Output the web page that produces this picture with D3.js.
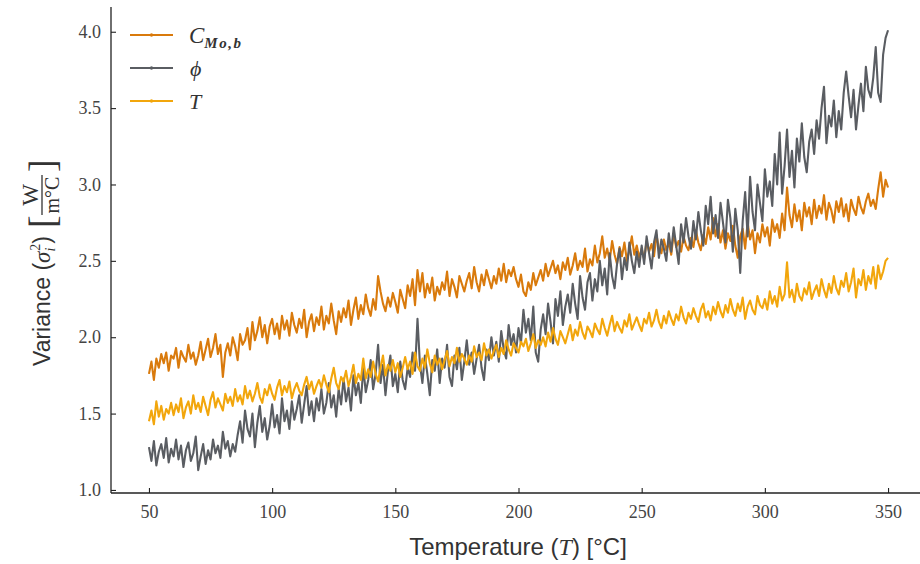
<!DOCTYPE html>
<html><head><meta charset="utf-8">
<script src="https://cdn.jsdelivr.net/npm/d3@7/dist/d3.min.js"></script>
<style>body{margin:0;background:#fff}svg{display:block}</style>
</head><body>
<svg id="c" width="920" height="564"></svg>
<script>
// Temperature grid (°C)
const temperatures = d3.range(50, 351, 1);

const cMoB = [
1.76,1.84,1.72,1.86,1.80,1.89,1.83,1.90,1.78,1.88,
1.86,1.93,1.80,1.91,1.87,1.84,1.95,1.86,1.90,1.82,
1.88,1.97,1.85,1.92,1.99,1.87,1.93,2.02,1.89,1.95,
1.74,1.90,1.96,1.88,2.00,1.94,1.85,2.02,1.95,1.98,
2.06,1.92,2.10,1.98,2.04,2.13,2.00,2.08,1.96,2.07,
2.12,2.02,2.09,1.99,2.14,2.05,2.11,2.01,2.16,2.08,
2.03,2.12,2.06,2.18,2.00,2.10,2.15,2.04,2.13,2.08,
2.20,2.05,2.14,2.09,2.22,2.11,2.02,2.17,2.10,2.19,
2.13,2.24,2.08,2.18,2.26,2.12,2.21,2.15,2.28,2.19,
2.14,2.25,2.18,2.40,2.30,2.22,2.17,2.26,2.20,2.29,
2.23,2.16,2.31,2.25,2.19,2.34,2.27,2.38,2.21,2.44,
2.30,2.42,2.26,2.35,2.29,2.39,2.24,2.33,2.28,2.36,
2.31,2.43,2.27,2.38,2.33,2.26,2.40,2.35,2.30,2.37,
2.42,2.32,2.46,2.36,2.30,2.41,2.34,2.44,2.38,2.32,
2.40,2.35,2.45,2.37,2.48,2.36,2.44,2.40,2.46,2.38,
2.33,2.41,2.30,2.27,2.36,2.31,2.42,2.34,2.39,2.44,
2.37,2.48,2.40,2.45,2.50,2.42,2.47,2.38,2.49,2.44,
2.52,2.41,2.47,2.55,2.44,2.50,2.46,2.58,2.43,2.51,
2.47,2.60,2.49,2.55,2.66,2.52,2.58,2.50,2.63,2.54,
2.48,2.59,2.53,2.62,2.50,2.57,2.66,2.54,2.60,2.52,
2.58,2.51,2.63,2.56,2.61,2.53,2.67,2.58,2.55,2.64,
2.57,2.62,2.54,2.68,2.59,2.63,2.56,2.66,2.60,2.57,
2.65,2.59,2.70,2.62,2.57,2.67,2.61,2.72,2.64,2.78,
2.66,2.74,2.62,2.70,2.58,2.68,2.63,2.73,2.60,2.52,
2.66,2.71,2.58,2.75,2.64,2.70,2.55,2.68,2.62,2.74,
2.66,2.72,2.60,2.77,2.69,2.74,2.65,2.81,2.70,2.98,
2.80,2.72,2.87,2.76,2.83,2.70,2.88,2.79,2.85,2.74,
2.90,2.78,2.86,2.81,2.93,2.77,2.88,2.83,2.75,2.89,
2.82,2.91,2.79,2.87,2.76,2.90,2.84,2.80,2.92,2.85,
2.81,2.89,2.94,2.86,2.90,2.84,2.97,3.08,2.92,3.03,
2.98];

const phi = [
1.28,1.19,1.32,1.16,1.25,1.30,1.21,1.34,1.18,1.27,
1.22,1.33,1.20,1.29,1.15,1.26,1.31,1.19,1.24,1.35,
1.13,1.22,1.30,1.17,1.26,1.20,1.33,1.24,1.29,1.21,
1.38,1.27,1.32,1.22,1.30,1.25,1.36,1.45,1.31,1.52,
1.40,1.35,1.50,1.28,1.44,1.55,1.38,1.47,1.33,1.42,
1.56,1.41,1.49,1.37,1.60,1.45,1.52,1.40,1.58,1.46,
1.53,1.62,1.44,1.56,1.68,1.49,1.58,1.45,1.60,1.52,
1.66,1.50,1.57,1.70,1.54,1.62,1.48,1.66,1.56,1.73,
1.58,1.67,1.52,1.75,1.62,1.70,1.57,1.80,1.64,1.72,
1.85,1.66,1.76,1.95,1.70,1.82,1.62,1.78,1.88,1.68,
1.76,1.64,1.84,1.72,1.66,1.80,1.74,1.90,1.78,2.12,
1.82,1.70,1.88,1.76,1.62,1.85,1.78,1.92,1.70,1.86,
1.80,1.95,1.74,1.68,1.88,1.79,1.93,1.72,1.84,1.98,
1.82,1.90,1.76,1.86,1.95,1.80,1.72,1.92,1.85,2.00,
1.88,1.97,1.84,2.04,1.92,1.86,2.08,1.95,2.02,1.90,
2.06,1.96,2.18,2.03,2.12,1.98,2.20,1.90,1.84,2.05,
2.15,2.02,2.22,2.10,1.96,2.25,2.14,2.30,2.08,2.20,
2.28,2.16,2.35,2.22,2.12,2.40,2.26,2.18,2.36,2.42,
2.24,2.38,2.30,2.50,2.34,2.45,2.28,2.55,2.40,2.32,
2.48,2.58,2.38,2.52,2.44,2.62,2.50,2.42,2.56,2.46,
2.60,2.48,2.66,2.55,2.45,2.62,2.70,2.52,2.64,2.58,
2.50,2.68,2.56,2.72,2.60,2.48,2.74,2.62,2.78,2.66,
2.58,2.76,2.64,2.82,2.70,2.60,2.86,2.74,2.92,2.68,
2.80,2.65,2.88,2.75,2.62,2.90,2.78,2.56,2.84,2.70,
2.42,2.76,2.95,2.66,3.05,2.82,2.70,3.00,2.88,2.76,
3.10,2.92,3.02,2.86,3.20,3.00,3.34,2.94,3.12,3.36,
3.05,3.22,2.98,3.30,3.15,3.40,3.18,3.08,3.28,3.36,
3.20,3.42,3.30,3.50,3.64,3.27,3.45,3.38,3.55,3.31,
3.48,3.36,3.60,3.74,3.58,3.44,3.62,3.36,3.52,3.66,
3.48,3.77,3.62,3.57,3.70,3.90,3.60,3.54,3.85,3.96,
4.01];

const tVar = [
1.45,1.52,1.43,1.58,1.48,1.55,1.46,1.53,1.50,1.57,
1.49,1.56,1.51,1.60,1.47,1.54,1.58,1.50,1.62,1.53,
1.57,1.51,1.61,1.55,1.49,1.59,1.64,1.54,1.60,1.56,
1.52,1.63,1.57,1.61,1.55,1.66,1.58,1.62,1.56,1.68,
1.60,1.65,1.58,1.63,1.70,1.61,1.57,1.66,1.62,1.69,
1.63,1.59,1.67,1.72,1.62,1.68,1.64,1.71,1.60,1.66,
1.70,1.65,1.62,1.69,1.74,1.66,1.71,1.63,1.68,1.72,
1.67,1.75,1.69,1.64,1.73,1.80,1.70,1.66,1.74,1.71,
1.78,1.68,1.74,1.82,1.70,1.76,1.72,1.86,1.73,1.79,
1.74,1.84,1.76,1.71,1.80,1.88,1.75,1.82,1.78,1.85,
1.77,1.83,1.74,1.80,1.87,1.79,1.84,1.76,1.90,1.81,
1.78,1.86,1.80,1.92,1.83,1.77,1.88,1.82,1.86,1.79,
1.85,1.91,1.81,1.87,1.83,1.93,1.84,1.89,1.86,1.82,
1.88,1.84,1.94,1.87,1.90,1.85,1.96,1.88,1.92,1.86,
1.91,1.95,1.87,1.93,1.89,1.98,1.92,1.88,1.96,1.93,
1.90,1.97,1.94,1.99,1.91,1.96,2.02,1.93,1.98,1.95,
2.00,1.94,2.03,1.97,2.06,1.99,1.95,2.04,2.00,1.96,
2.02,2.08,1.98,2.05,2.01,2.10,2.03,1.99,2.07,2.04,
2.00,2.09,2.05,2.02,2.12,2.06,2.01,2.08,2.14,2.04,
2.10,2.06,2.03,2.11,2.07,2.15,2.05,2.09,2.13,2.08,
2.04,2.12,2.09,2.16,2.07,2.11,2.18,2.10,2.06,2.14,
2.09,2.17,2.12,2.08,2.15,2.11,2.20,2.13,2.09,2.16,
2.12,2.19,2.14,2.10,2.18,2.22,2.13,2.17,2.11,2.20,
2.15,2.23,2.17,2.13,2.21,2.16,2.25,2.18,2.14,2.22,
2.17,2.26,2.12,2.20,2.24,2.18,2.15,2.27,2.21,2.19,
2.25,2.18,2.30,2.22,2.27,2.20,2.33,2.24,2.28,2.49,
2.26,2.31,2.23,2.35,2.27,2.24,2.32,2.28,2.36,2.25,
2.30,2.34,2.27,2.38,2.31,2.26,2.35,2.29,2.40,2.32,
2.28,2.37,2.33,2.42,2.30,2.36,2.45,2.26,2.38,2.34,
2.44,2.31,2.40,2.35,2.46,2.32,2.47,2.38,2.43,2.50,
2.52];

const xTicks = [50, 100, 150, 200, 250, 300, 350];
const yTicks = [1.0, 1.5, 2.0, 2.5, 3.0, 3.5, 4.0];
const seriesColors = ["#d97a0c", "#5a5d62", "#f2a60c"];

const svg = d3.select("#c");
const x = d3.scaleLinear().domain([35, 365]).range([112, 925]);
const y = d3.scaleLinear().domain([0.98, 4.162]).range([493, 7]);

// lines
const series = [cMoB, phi, tVar];
const line = d3.line().x((d, i) => x(temperatures[i])).y(d => y(d));
svg.append("g").selectAll("path").data(series).join("path")
  .attr("d", d => line(d))
  .attr("fill", "none")
  .attr("stroke", (d, i) => seriesColors[i])
  .attr("stroke-width", 2.1)
  .attr("stroke-linejoin", "round");

// axes
const tickFont = "'Liberation Serif', 'DejaVu Serif', serif";
const xAxis = svg.append("g").attr("transform", "translate(0,493)")
  .call(d3.axisBottom(x).tickValues(xTicks).tickSize(-5).tickPadding(12).tickFormat(d3.format("d")));
const yAxis = svg.append("g").attr("transform", "translate(111,0)")
  .call(d3.axisLeft(y).tickValues(yTicks).tickSize(-5).tickPadding(10).tickFormat(d3.format(".1f")));
[xAxis, yAxis].forEach(a => {
  a.select(".domain").attr("stroke", "#222").attr("stroke-width", 1.3);
  a.selectAll(".tick line").attr("stroke", "#222").attr("stroke-width", 1.1);
  a.selectAll(".tick text").attr("font-family", tickFont).attr("font-size", 18).attr("fill", "#444");
});
yAxis.select(".domain").attr("d", "M0,7V493");
xAxis.select(".domain").attr("d", "M111,0H920");

// x label
const labFont = "'Liberation Sans', Arial, sans-serif";
const xl = svg.append("text").attr("x", 518).attr("y", 555).attr("text-anchor", "middle")
  .attr("font-family", labFont).attr("font-size", 24).attr("fill", "#333");
xl.append("tspan").text("Temperature (");
xl.append("tspan").attr("font-family", tickFont).attr("font-style", "italic").text("T");
xl.append("tspan").text(") [°C]");

// y label
const yl = svg.append("g").attr("transform", "translate(50,366) rotate(-90)");
const yt = yl.append("text").attr("x", 0).attr("y", 0)
  .attr("font-family", labFont).attr("font-size", 23).attr("fill", "#333");
yt.append("tspan").text("Variance (");
yt.append("tspan").attr("font-family", tickFont).attr("font-style", "italic").text("σ");
yt.append("tspan").attr("font-family", tickFont).attr("font-style", "italic").attr("font-size", 14).attr("dy", 5).text("i");
yt.append("tspan").attr("font-family", tickFont).attr("font-size", 14).attr("dy", -15).attr("dx", -3).text("2");
yt.append("tspan").attr("dy", 10).text(")");
const bx = 138;
yl.append("text").attr("x", bx).attr("y", 5).attr("font-family", tickFont).attr("font-size", 38).attr("fill", "#333").text("[");
yl.append("text").attr("x", bx + 33).attr("y", -12).attr("text-anchor", "middle").attr("font-family", tickFont).attr("font-size", 23).attr("fill", "#333").text("W");
yl.append("line").attr("x1", bx + 13).attr("x2", bx + 53).attr("y1", -8).attr("y2", -8).attr("stroke", "#333").attr("stroke-width", 1.3);
yl.append("text").attr("x", bx + 33).attr("y", 9).attr("text-anchor", "middle").attr("font-family", tickFont).attr("font-size", 20).attr("fill", "#333").text("m°C");
yl.append("text").attr("x", bx + 56).attr("y", 5).attr("font-family", tickFont).attr("font-size", 38).attr("fill", "#333").text("]");

// legend
const legY = [35, 68, 101];
const leg = svg.append("g");
legY.forEach((ly, i) => {
  leg.append("line").attr("x1", 130).attr("x2", 173).attr("y1", ly).attr("y2", ly)
    .attr("stroke", seriesColors[i]).attr("stroke-width", 2);
  leg.append("circle").attr("cx", 151.5).attr("cy", ly).attr("r", 1.7).attr("fill", seriesColors[i]);
});
const lt0 = leg.append("text").attr("x", 189).attr("y", 43).attr("font-family", tickFont).attr("font-size", 23).attr("fill", "#333");
lt0.append("tspan").attr("font-style", "italic").text("C");
lt0.append("tspan").attr("font-style", "italic").attr("font-weight", "bold").attr("font-size", 15).attr("letter-spacing", 1.5).attr("dy", 5).text("Mo,b");
leg.append("text").attr("x", 190).attr("y", 76).attr("font-family", tickFont).attr("font-style", "italic").attr("font-size", 22).attr("fill", "#333").text("ϕ");
leg.append("text").attr("x", 189).attr("y", 109).attr("font-family", tickFont).attr("font-style", "italic").attr("font-size", 22).attr("fill", "#333").text("T");
</script>
</body></html>
